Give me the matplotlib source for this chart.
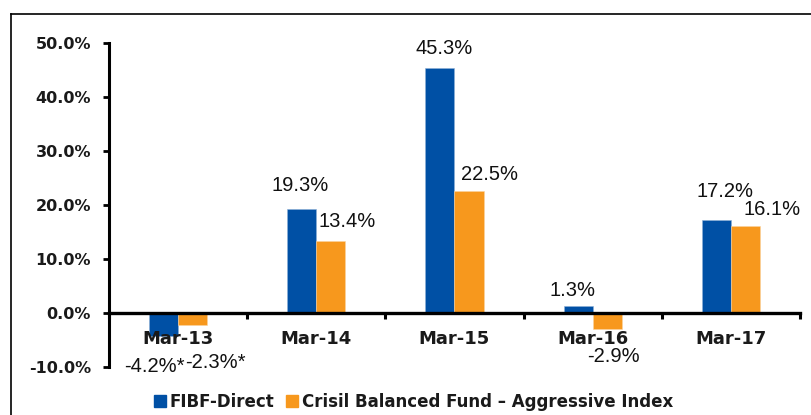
import matplotlib
matplotlib.use("Agg")
import matplotlib.pyplot as plt
from matplotlib.lines import Line2D
import numpy as np

plt.rcParams['font.family'] = ['Liberation Sans', 'DejaVu Sans']

categories = ['Mar-13', 'Mar-14', 'Mar-15', 'Mar-16', 'Mar-17']
fibf = [-4.2, 19.3, 45.3, 1.3, 17.2]
crisil = [-2.3, 13.4, 22.5, -2.9, 16.1]
fibf_labels = ['-4.2%*', '19.3%', '45.3%', '1.3%', '17.2%']
crisil_labels = ['-2.3%*', '13.4%', '22.5%', '-2.9%', '16.1%']
series_names = ['FIBF-Direct', 'Crisil Balanced Fund \u2013 Aggressive Index']
yticks = [-10, 0, 10, 20, 30, 40, 50]

blue = '#0050A5'
orange = '#F7981D'

# label offsets in points (dx, dy) from the bar end, placed by hand like the original
fibf_off = [(-6.5, -22.5), (-1, 16.5), (3, 14.5), (-4.3, 11.5), (6.2, 20.4)]
crisil_off = [(16.5, -26.5), (11.5, 13.7), (14.7, 11.9), (4.5, -20.4), (19, 12.2)]

fig = plt.figure(figsize=(8.12, 4.15), dpi=100)
ax = fig.add_axes([109 / 812, 1 - 367 / 415, 691 / 812, 324 / 415])

# x axis crosses at zero (set before styling ticks, it resets them)
for s in ['top', 'right']:
    ax.spines[s].set_visible(False)
ax.spines['bottom'].set_position(('data', 0))
ax.spines['bottom'].set_linewidth(2.4)
ax.spines['bottom'].set_zorder(4)
ax.spines['left'].set_linewidth(2.2)

x = np.arange(len(categories))
w = 0.21
b1 = ax.bar(x - w / 2, fibf, w, color=blue, edgecolor='#8fb0d8', linewidth=0.4)
b2 = ax.bar(x + w / 2, crisil, w, color=orange, edgecolor='#fbd3a0', linewidth=0.4)

for bars, labels, offs in [(b1, fibf_labels, fibf_off), (b2, crisil_labels, crisil_off)]:
    for r, lab, (dx, dy) in zip(bars, labels, offs):
        ax.annotate(lab, (r.get_x() + r.get_width() / 2, r.get_height()),
                    xytext=(dx, dy), textcoords='offset points',
                    ha='center', va='center', fontsize=14.5, color='#111111')

ax.set_xlim(-0.5, 4.5)
ax.set_ylim(-10, 50)
ax.set_yticks(yticks)
ax.set_yticklabels(['%.1f%%' % v for v in yticks], family='DejaVu Sans',
                   fontsize=11.5, fontweight='bold', color='#1a1a1a')
ax.set_xticks(x)
ax.set_xticklabels(categories, family='DejaVu Sans', fontsize=13, fontweight='bold',
                   color='#1a1a1a')
ax.set_xticks(np.arange(-0.5, 4.6, 1), minor=True)
ax.tick_params(axis='x', which='major', length=0, pad=12)
ax.tick_params(axis='x', which='minor', length=4.5, width=2.2, direction='out')
ax.tick_params(axis='y', length=4, width=2, direction='out', pad=9)

handles = [plt.Rectangle((0, 0), 1, 1, color=blue), plt.Rectangle((0, 0), 1, 1, color=orange)]
leg = fig.legend(handles, series_names, loc='center', bbox_to_anchor=(0.509, 0.031), ncol=2,
                 frameon=False, handlelength=0.72, handleheight=0.72, handletextpad=0.2,
                 columnspacing=0.75, borderpad=0, prop={'family': 'DejaVu Sans', 'size': 12, 'weight': 'bold'})
for t in leg.get_texts():
    t.set_color('#1a1a1a')

# outer frame lines (top and left only)
fig.add_artist(Line2D([11 / 812, 1.0], [1 - 14 / 415, 1 - 14 / 415], color='black', linewidth=1.2))
fig.add_artist(Line2D([11 / 812, 11 / 812], [0, 1 - 14 / 415], color='black', linewidth=1.2))

fig.savefig('out.png', dpi=100)
